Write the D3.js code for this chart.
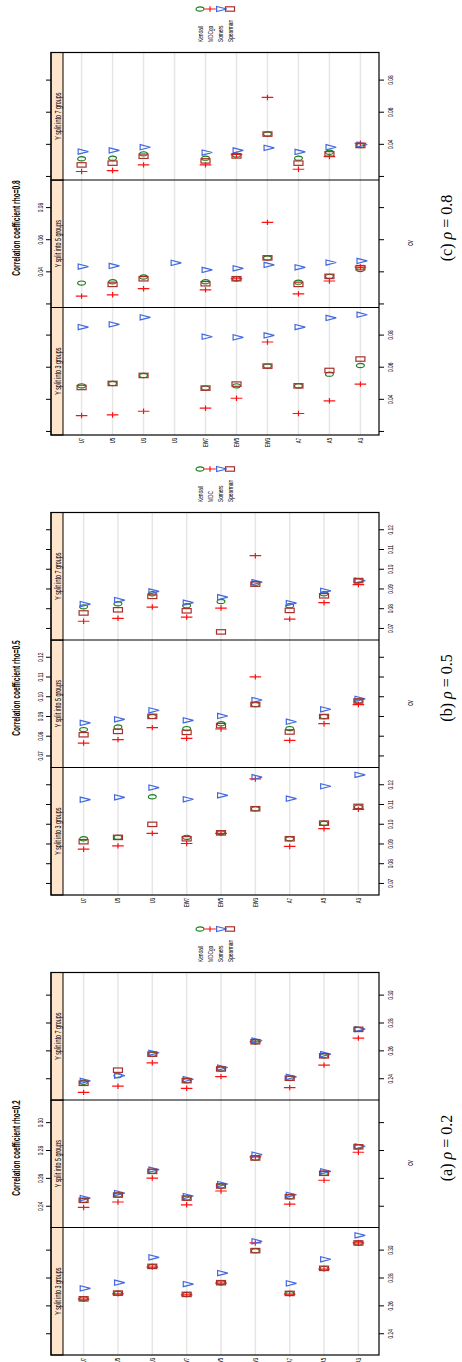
<!DOCTYPE html>
<html><head><meta charset="utf-8">
<script src="https://cdn.jsdelivr.net/npm/d3@7"></script>
<style>body{margin:0;background:#fff}svg{display:block}</style>
</head><body><svg id="c" width="462" height="1362"></svg>
<script>
// ---------- data ----------
const catsAB = ["U7","U5","U3","EW7","EW5","EW3","A7","A5","A3"];
const catsC  = ["U7","U5","U3","U3","EW7","EW5","EW3","A7","A5","A3"];
const panelLabels = ["Y split into 3 groups","Y split into 5 groups","Y split into 7 groups"];
const legendAC = ["Kendall","MDCgo","Somers","Spearman"];
const legendB  = ["Kendall","MDC","Somers","Spearman"];
const ticksA = [0.24,0.26,0.28,0.30];
const tickLabelsA = ["0.24","0.26","0.28","0.30"];
const ticksB = [0.07,0.08,0.09,0.10,0.11,0.12];
const tickLabelsB = ["0.07","0.08","0.09","0.10","0.11","0.12"];
const ticksC = [0.02,0.04,0.06,0.08];
const tickLabelsC = ["","0.04","0.06","0.08"];

// rho = 0.2  (panels: 3, 5, 7 groups)
const kendallA  = [[.2654,.2695,.2887,.2686,.2770,.3000,.2693,.2873,.3055],
                   [.2446,.2484,.2654,.2462,.2549,.2750,.2472,.2640,.2830],
                   [.2378,.2426,.2580,.2390,.2474,.2669,.2407,.2568,.2758]];
const mdcA      = [[.2652,.2690,.2882,.2683,.2767,.3055,.2688,.2868,.3055],
                   [.2395,.2434,.2606,.2414,.2513,.2758,.2419,.2590,.2791],
                   [.2306,.2350,.2518,.2335,.2419,.2669,.2340,.2501,.2695]];
const somersA   = [[.2729,.2770,.2952,.2760,.2839,.3067,.2765,.2938,.3110],
                   [.2462,.2498,.2666,.2477,.2563,.2774,.2486,.2654,.2834],
                   [.2388,.2426,.2590,.2400,.2484,.2678,.2417,.2580,.2760]];
const spearmanA = [[.2654,.2695,.2887,.2686,.2770,.3000,.2693,.2873,.3055],
                   [.2446,.2484,.2654,.2462,.2549,.2750,.2472,.2640,.2830],
                   [.2371,.2465,.2580,.2390,.2474,.2669,.2407,.2568,.2758]];
// rho = 0.5
const kendallB  = [[.0929,.0936,.1142,.0936,.0959,.1081,.0929,.1008,.1090],
                   [.0836,.0849,.0903,.0841,.0866,.0963,.0841,.0902,.0981],
                   [.0812,.0828,.0878,.0818,.0839,.0932,.0818,.0878,.0944]];
const mdcB      = [[.0876,.0893,.0956,.0905,.0956,.1232,.0890,.0980,.1078],
                   [.0768,.0785,.0846,.0792,.0839,.1103,.0781,.0866,.0963],
                   [.0739,.0754,.0811,.0760,.0806,.1071,.0750,.0833,.0925]];
const somersB   = [[.1127,.1139,.1188,.1129,.1149,.1241,.1132,.1195,.1253],
                   [.0870,.0888,.0934,.0883,.0905,.0986,.0876,.0939,.0992],
                   [.0826,.0846,.0890,.0833,.0861,.0937,.0831,.0893,.0945]];
const spearmanB = [[.0914,.0936,.1002,.0929,.0959,.1081,.0929,.1008,.1093],
                   [.0810,.0827,.0903,.0822,.0856,.0963,.0824,.0902,.0981],
                   [.0781,.0797,.0865,.0792,.0685,.0927,.0794,.0868,.0945]];
// rho = 0.8
const kendallC  = [[.0487,.0502,.0552,null,.0473,.0487,.0610,.0487,.0560,.0614],
                   [.0333,.0341,.0371,null,.0341,.0360,.0490,.0339,.0375,.0417],
                   [.0313,.0317,.0344,null,.0317,.0336,.0467,.0317,.0354,.0396]];
const mdcC      = [[.0302,.0306,.0329,null,.0348,.0410,.0760,.0315,.0394,.0498],
                   [.0252,.0260,.0298,null,.0291,.0360,.0711,.0266,.0346,.0433],
                   [.0234,.0240,.0275,null,.0275,.0340,.0695,.0248,.0327,.0410]];
const somersC   = [[.0853,.0870,.0914,null,.0793,.0789,.0801,.0853,.0910,.0930],
                   [.0436,.0440,null,.0459,.0415,.0425,.0446,.0431,.0461,.0471],
                   [.0358,.0365,.0385,null,.0352,.0365,.0381,.0356,.0385,.0402]];
const spearmanC = [[.0477,.0502,.0552,null,.0473,.0498,.0610,.0487,.0583,.0654],
                   [null,.0325,.0360,null,.0329,.0360,.0490,.0325,.0375,.0429],
                   [.0275,.0286,.0329,null,.0300,.0331,.0467,.0286,.0344,.0396]];

// ---------- figure settings ----------
const figs = [
  {off:0,   cats:catsAB, legend:legendAC, title:"Correlation coefficient rho=0.2", cap:["(a) ","ρ"," = 0.2"],
   domain:[0.2251,0.3166], ticks:ticksA, tickLabels:tickLabelsA, series:[kendallA,mdcA,somersA,spearmanA]},
  {off:460, cats:catsAB, legend:legendB, title:"Correlation coefficient rho=0.5", cap:["(b) ","ρ"," = 0.5"],
   domain:[0.0644,0.1290], ticks:ticksB, tickLabels:tickLabelsB, series:[kendallB,mdcB,somersB,spearmanB]},
  {off:920, cats:catsC, legend:legendAC, title:"Correlation coefficient rho=0.8", cap:["(c) ","ρ"," = 0.8"],
   domain:[0.0181,0.0975], ticks:ticksC, tickLabels:tickLabelsC, series:[kendallC,mdcC,somersC,spearmanC]}
];
const styles = [
  {color:"#1d7d1d", shape:"circle"},
  {color:"#ff1010", shape:"plus"},
  {color:"#4169e1", shape:"triangle"},
  {color:"#a8302c", shape:"square"}
];
const FONT = "'Liberation Sans', Arial, Helvetica, sans-serif";
const SX = 0.6;              // horizontal squeeze of the original figure
const PW = 127.5, XL = 7;    // panel width, first panel left
const Y0 = 51, YS = 63, Y1 = 379;

function drawSymbol(sel, shape, color) {
  if (shape === "circle") sel.append("ellipse").attr("rx",2.1).attr("ry",3.9);
  else if (shape === "square") sel.append("rect").attr("x",-2.2).attr("y",-4.5).attr("width",4.4).attr("height",9);
  else if (shape === "plus") sel.append("path").attr("d","M-2.7,0H2.7M0,-5.8V5.8");
  else sel.append("path").attr("d","M-2.6,-3.4L2.6,-3.4L0,6.8Z");
  sel.selectAll("*").attr("fill","none").attr("stroke",color).attr("stroke-width",1.2);
}
function sText(parent, x, y, str, size, anchor, weight) {
  return parent.append("text").attr("transform",`translate(${x},${y}) scale(${SX},1)`)
    .attr("text-anchor",anchor||"middle").attr("font-family",FONT).attr("font-size",size)
    .attr("font-weight",weight||"normal").attr("fill","#000").text(str);
}

const svg = d3.select("#c");
svg.append("rect").attr("width",462).attr("height",1362).attr("fill","#fff");
const root = svg.append("g").attr("transform","translate(0,1362) rotate(-90)");

figs.forEach(f => {
  const g = root.append("g").attr("transform",`translate(${f.off},0)`);
  const y = d3.scalePoint().domain(d3.range(f.cats.length)).range([YS, Y1]).padding(0.6);

  panelLabels.forEach((pl, k) => {
    const x0 = XL + k*PW;
    const x = d3.scaleLinear().domain(f.domain).range([x0, x0+PW]);
    const pg = g.append("g");
    // reference lines
    pg.append("g").selectAll("line").data(f.cats).join("line")
      .attr("x1",x0).attr("x2",x0+PW).attr("y1",(d,i)=>y(i)).attr("y2",(d,i)=>y(i))
      .attr("stroke","#e6e6e6").attr("stroke-width",1.5);
    // strip
    pg.append("rect").attr("x",x0).attr("y",Y0).attr("width",PW).attr("height",YS-Y0)
      .attr("fill","#ffe5cc").attr("stroke","#000").attr("stroke-width",1);
    sText(pg, x0+PW/2, 60.5, pl, 9);
    // axes (ticks both sides, labels alternate)
    const fmt = v => f.tickLabels[f.ticks.indexOf(v)];
    const bottom = d3.axisBottom(x).tickValues(f.ticks).tickSize(5).tickPadding(3).tickFormat(k===1 ? () => "" : fmt);
    const top = d3.axisTop(x).tickValues(f.ticks).tickSize(5).tickPadding(3).tickFormat(k===1 ? fmt : () => "");
    [[bottom,Y1],[top,Y0]].forEach(([ax,yy]) => {
      const a = pg.append("g").attr("transform",`translate(0,${yy})`).call(ax);
      a.select(".domain").remove();
      a.selectAll("line").attr("stroke","#000");
      a.selectAll("text").attr("font-family",FONT).attr("font-size",8).attr("fill","#000")
        .attr("transform",`scale(${SX},1)`);
    });
    // points
    f.series.forEach((ser, s) => {
      const vals = ser[k];
      const pts = pg.append("g").selectAll("g").data(vals.map((v,i)=>({v,i})).filter(d=>d.v!==null)).join("g")
        .attr("transform", d => `translate(${x(d.v)},${y(d.i)})`);
      pts.each(function(){ drawSymbol(d3.select(this), styles[s].shape, styles[s].color); });
    });
  });
  // frame
  g.append("rect").attr("x",XL).attr("y",Y0).attr("width",3*PW).attr("height",Y1-Y0)
    .attr("fill","none").attr("stroke","#000").attr("stroke-width",1.2);
  [1,2].forEach(k => g.append("line").attr("x1",XL+k*PW).attr("x2",XL+k*PW).attr("y1",Y0).attr("y2",Y1)
    .attr("stroke","#000").attr("stroke-width",1.2));
  // category labels
  f.cats.forEach((c,i) => sText(g, XL-3, y(i)+2.4, c, 7, "end"));
  // title, xlab
  sText(g, 214, 20, f.title, 11, "middle", "bold");
  sText(g, 199, 413, "cv", 9);
  // legend
  f.legend.forEach((t,i) => {
    sText(g, 400, 202.8 + i*10, t, 8, "start");
    const sg = g.append("g").attr("transform",`translate(433,${200 + i*10})`);
    drawSymbol(sg, styles[i].shape, styles[i].color);
  });
  // caption
  const cap = g.append("text").attr("x",214).attr("y",452).attr("text-anchor","middle")
    .attr("font-family","'Liberation Serif', 'Times New Roman', serif").attr("font-size",16).attr("fill","#000");
  cap.append("tspan").text(f.cap[0]);
  cap.append("tspan").attr("font-style","italic").text(f.cap[1]);
  cap.append("tspan").text(f.cap[2]);
});
</script></body></html>
